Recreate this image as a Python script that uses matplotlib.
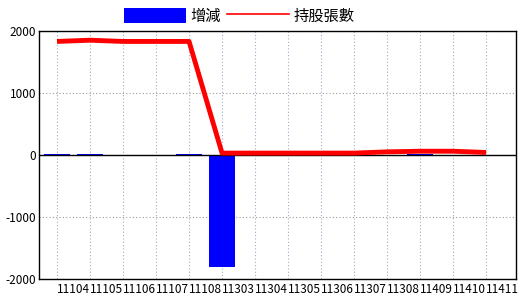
import matplotlib
matplotlib.use("Agg")
import matplotlib.pyplot as plt
from matplotlib.patches import Patch
from matplotlib.lines import Line2D
import numpy as np

plt.rcParams['font.family'] = ['Noto Sans CJK TC', 'DejaVu Sans']

# 月份（民國年月）
months = ["11104", "11105", "11106", "11107", "11108", "11303", "11304",
          "11305", "11306", "11307", "11308", "11409", "11410", "11411"]
# 持股張數
holdings = [1830, 1850, 1830, 1830, 1830, 30, 30, 30, 30, 30, 50, 60, 60, 40]
# 增減
changes = [10, 10, 0, 0, 10, -1800, 0, 0, 0, 0, 0, 20, 0, 0]

fig = plt.figure(figsize=(5.2, 3.0), dpi=100)
ax = fig.add_axes([0.075, 0.07, 0.917, 0.827])

x = np.arange(len(months))
ax.bar(x, changes, width=0.79, color="#0000ff", zorder=2)
ax.plot(x, holdings, color="#ff0000", linewidth=3.5, zorder=3,
        solid_capstyle="butt")

ax.axhline(0, color="black", linewidth=1.0, zorder=2.5)

ax.set_xlim(-0.545, 13.9)
ax.set_ylim(-2000, 2000)
ax.set_yticks([-2000, -1000, 0, 1000, 2000])
ax.set_yticklabels(["-2000", "-1000", "0", "1000", "2000"], fontsize=8.5)
ax.set_xticks(x)
ax.set_xticklabels(months, fontsize=8.5, ha="left")
ax.tick_params(length=0, pad=2)
ax.tick_params(axis="x", pad=3)

ax.grid(axis="x", color="#9ab0c8", linestyle=(0, (1, 2)), linewidth=0.8, zorder=0)
ax.grid(axis="y", color="#999999", linestyle=(0, (1, 2)), linewidth=0.8, zorder=0)

for s in ax.spines.values():
    s.set_color("black")
    s.set_linewidth(1.0)

handles = [Patch(facecolor="#0000ff", edgecolor="none"),
           Line2D([], [], color="#ff0000", linewidth=1.2)]
fig.legend(handles, ["增減", "持股張數"], loc="center",
           bbox_to_anchor=(239 / 520, 1 - 16 / 300), ncol=2, frameon=False,
           fontsize=11, handlelength=4.1, handleheight=1.2,
           handletextpad=0.25, columnspacing=0.4, borderpad=0)

fig.savefig("out.png", dpi=100)
